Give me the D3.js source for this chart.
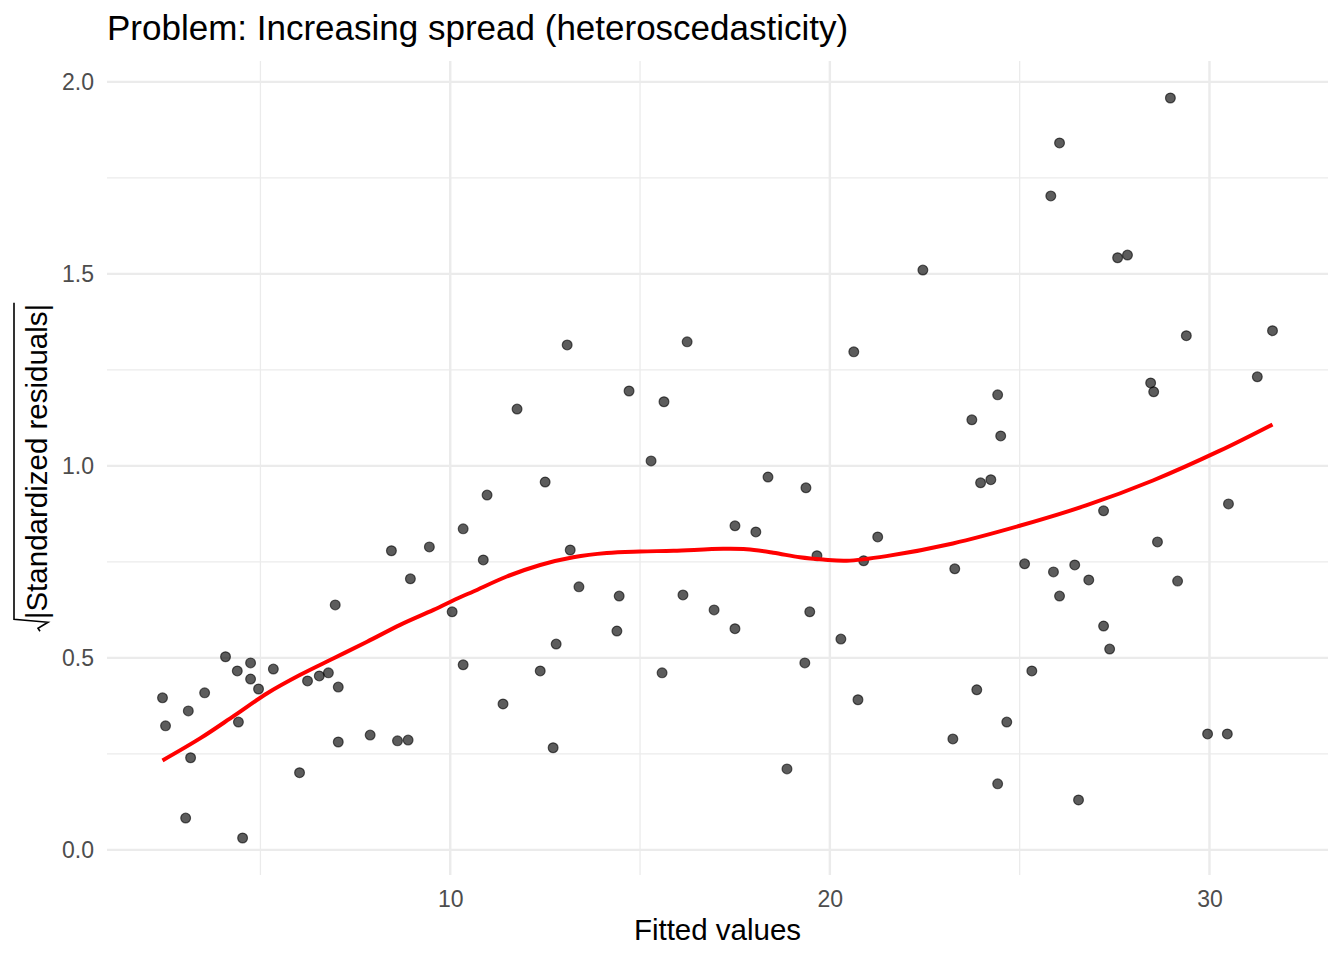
<!DOCTYPE html>
<html>
<head>
<meta charset="utf-8">
<script src="https://cdn.jsdelivr.net/npm/d3@7"></script>
<style>
  body { margin: 0; background: #fff; }
  text { font-family: "Liberation Sans", Arial, Helvetica, sans-serif; }
</style>
</head>
<body>
<svg id="chart" width="1344" height="960"></svg>
<script>
// fitted values and sqrt(|standardized residuals|)
const fitted = [2.42, 2.50, 3.03, 3.10, 3.16, 3.53, 4.08, 4.39, 4.42, 4.53,
    4.74, 4.74, 4.95, 5.34, 6.03, 6.24, 6.55, 6.79, 6.97, 7.05,
    7.05, 7.89, 8.45, 8.61, 8.89, 8.95, 9.45, 10.05, 10.34, 10.34,
    10.87, 10.97, 11.39, 11.76, 12.37, 12.50, 12.71, 12.79, 13.08, 13.16,
    13.39, 14.39, 14.45, 14.71, 15.29, 15.58, 15.63, 16.13, 16.24, 16.95,
    17.50, 17.50, 18.05, 18.37, 18.87, 19.34, 19.37, 19.47, 19.66, 20.29,
    20.63, 20.74, 20.89, 21.26, 22.45, 23.24, 23.29, 23.74, 23.87, 23.97,
    24.24, 24.42, 24.42, 24.50, 24.66, 25.13, 25.32, 25.82, 25.89, 26.05,
    26.05, 26.45, 26.55, 26.82, 27.21, 27.21, 27.37, 27.58, 27.84, 28.45,
    28.53, 28.63, 28.97, 29.16, 29.39, 29.95, 30.47, 30.50, 31.26, 31.66];
const sqrtResid = [0.396, 0.323, 0.083, 0.362, 0.240, 0.409, 0.503, 0.466, 0.333, 0.031,
    0.487, 0.445, 0.419, 0.471, 0.201, 0.440, 0.453, 0.461, 0.638, 0.424,
    0.281, 0.299, 0.779, 0.284, 0.286, 0.706, 0.789, 0.620, 0.836, 0.482,
    0.755, 0.924, 0.380, 1.148, 0.466, 0.958, 0.266, 0.536, 1.315, 0.781,
    0.685, 0.570, 0.661, 1.195, 1.013, 0.461, 1.167, 0.664, 1.323, 0.625,
    0.844, 0.576, 0.828, 0.971, 0.211, 0.487, 0.943, 0.620, 0.766, 0.549,
    1.297, 0.391, 0.753, 0.815, 1.510, 0.289, 0.732, 1.120, 0.417, 0.956,
    0.964, 1.185, 0.172, 1.078, 0.333, 0.745, 0.466, 1.703, 0.724, 1.841,
    0.661, 0.742, 0.130, 0.703, 0.883, 0.583, 0.523, 1.542, 1.549, 1.216,
    1.193, 0.802, 1.958, 0.700, 1.339, 0.302, 0.302, 0.901, 1.232, 1.352];

// loess smooth
const smoothX = [2.42, 3.42, 4.30, 5.18, 6.05, 6.93, 7.81, 8.68, 9.56, 10.26,
    10.61, 11.49, 12.37, 13.24, 14.12, 15.00, 15.88, 17.19, 17.81, 18.51,
    19.21, 19.82, 20.44, 21.49, 23.24, 25.00, 26.75, 28.51, 30.26, 31.66];
const smoothY = [0.233, 0.291, 0.349, 0.408, 0.456, 0.499, 0.542, 0.586, 0.625, 0.658,
    0.673, 0.712, 0.742, 0.762, 0.773, 0.777, 0.779, 0.784, 0.783, 0.774,
    0.762, 0.756, 0.753, 0.765, 0.798, 0.844, 0.897, 0.962, 1.039, 1.108];

const xTicks = [10, 20, 30];
const xMinor = [5, 15, 25];
const yTicks = [0, 0.5, 1.0, 1.5, 2.0];
const yMinor = [0.25, 0.75, 1.25, 1.75];

const svg = d3.select('#chart');
const panel = { left: 107, right: 1328, top: 61, bottom: 875 };
const gridColor = "#ebebeb";
const fontFamily = '"Liberation Sans", Arial, Helvetica, sans-serif';

const xExt = d3.extent(fitted);
const yExt = d3.extent(sqrtResid);
const xPad = (xExt[1] - xExt[0]) * 0.05;
const yPad = (yExt[1] - yExt[0]) * 0.05;

const x = d3.scaleLinear().domain([xExt[0] - xPad, xExt[1] + xPad]).range([panel.left, panel.right]);
const y = d3.scaleLinear().domain([yExt[0] - yPad, yExt[1] + yPad]).range([panel.bottom, panel.top]);

// grid
const grid = svg.append('g');
grid.selectAll('.xminor').data(xMinor).enter().append('line')
    .attr("x1", d => x(d)).attr("x2", d => x(d))
    .attr("y1", panel.top).attr("y2", panel.bottom)
    .attr("stroke", gridColor).attr("stroke-width", 1.3);
grid.selectAll('.yminor').data(yMinor).enter().append('line')
    .attr("x1", panel.left).attr("x2", panel.right)
    .attr("y1", d => y(d)).attr("y2", d => y(d))
    .attr("stroke", gridColor).attr("stroke-width", 1.3);
grid.selectAll('.xmajor').data(xTicks).enter().append('line')
    .attr("x1", d => x(d)).attr("x2", d => x(d))
    .attr("y1", panel.top).attr("y2", panel.bottom)
    .attr("stroke", gridColor).attr("stroke-width", 2.4);
grid.selectAll('.ymajor').data(yTicks).enter().append('line')
    .attr("x1", panel.left).attr("x2", panel.right)
    .attr("y1", d => y(d)).attr("y2", d => y(d))
    .attr("stroke", gridColor).attr("stroke-width", 2.4);

// axes (labels only, like theme_minimal)
const xAxis = svg.append('g')
    .attr("transform", `translate(0, ${panel.bottom})`)
    .call(d3.axisBottom(x).tickValues(xTicks).tickSize(0).tickPadding(16).tickFormat(d3.format("d")));
const yAxis = svg.append('g')
    .attr("transform", `translate(${panel.left}, 0)`)
    .call(d3.axisLeft(y).tickValues(yTicks).tickSize(0).tickPadding(13).tickFormat(d3.format(".1f")));
[xAxis, yAxis].forEach(function(a) {
    a.select('.domain').remove();
    a.selectAll('text')
        .attr("fill", "#4d4d4d")
        .style("font-size", "23px")
        .style("font-family", fontFamily);
});

// points
svg.append('g').selectAll('circle')
    .data(fitted.map((d, i) => [d, sqrtResid[i]]))
    .enter().append('circle')
    .attr("cx", d => x(d[0]))
    .attr("cy", d => y(d[1]))
    .attr("r", 4.9)
    .attr("fill", "black")
    .attr("fill-opacity", 0.64)
    .attr("stroke", "black")
    .attr("stroke-opacity", 0.6)
    .attr("stroke-width", 1.2);

// smooth line
const line = d3.line()
    .x(d => x(d[0]))
    .y(d => y(d[1]))
    .curve(d3.curveCatmullRom);
svg.append('path')
    .datum(smoothX.map((d, i) => [d, smoothY[i]]))
    .attr("d", line)
    .attr("fill", "none")
    .attr("stroke", "red")
    .attr("stroke-width", 4);

// title
svg.append('text')
    .attr("x", panel.left)
    .attr("y", 40)
    .style("font-size", "35px")
    .attr("fill", "black")
    .text("Problem: Increasing spread (heteroscedasticity)");

// x axis title
svg.append('text')
    .attr("x", (panel.left + panel.right) / 2)
    .attr("y", 940)
    .attr("text-anchor", "middle")
    .style("font-size", "29.5px")
    .attr("fill", "black")
    .text("Fitted values");

// y axis title: sqrt(|Standardized residuals|), radical drawn as a path
const yTitle = svg.append('g')
    .attr("transform", `translate(47, ${(panel.top + panel.bottom) / 2}) rotate(-90)`);
const inner = yTitle.append('text')
    .style("font-size", "29.5px")
    .attr("fill", "black")
    .text("|Standardized residuals|");
const rootW = 13;
const innerW = inner.node().getComputedTextLength();
const total = rootW + innerW;
const x0 = -total / 2 + rootW;
inner.attr("x", x0);
yTitle.append('path')
    .attr("d", `M${total / 2 + 1},-33 L${x0},-33 L${x0 - 3},1 L${x0 - 9},-9 L${x0 - 12},-7`)
    .attr("fill", "none")
    .attr("stroke", "black")
    .attr("stroke-width", 1.6)
    .attr("stroke-linejoin", "miter");
</script>
</body>
</html>
